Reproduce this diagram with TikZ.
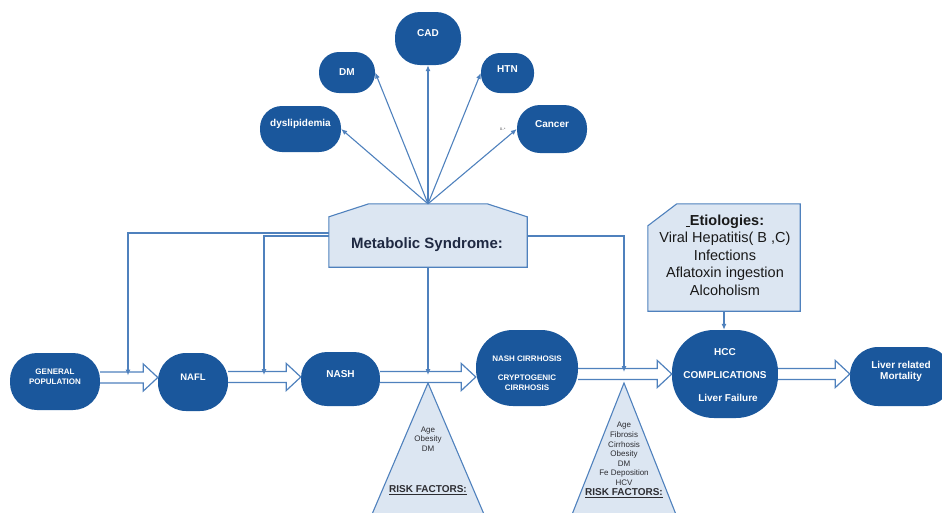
\documentclass[tikz,border=0pt]{standalone}
\usepackage{fontspec}
\setmainfont{Liberation Sans}
\usetikzlibrary{calc,arrows.meta}

\definecolor{nodeblue}{RGB}{26,87,156}
\definecolor{lineblue}{RGB}{79,129,189}
\definecolor{lightfill}{RGB}{220,230,242}
\definecolor{navy}{RGB}{31,41,66}
\definecolor{greytext}{RGB}{45,45,50}

\tikzset{
  blob/.style={fill=nodeblue, draw=none, inner sep=0pt},
  blobtext/.style={text=white, align=center, inner sep=0pt,
    font=\bfseries\fontsize{10}{12}\selectfont},
  link/.style={draw=lineblue, line width=1.1pt},
  tipped/.style={-{Latex[length=6pt,width=5pt]}},
  lightbox/.style={fill=lightfill, draw=lineblue, line width=1.1pt},
  fat/.style={fill=white, draw=lineblue, line width=1.2pt, line join=miter},
  risk/.style={font=\fontsize{8}{9.6}\selectfont, text=greytext, align=center},
  riskhead/.style={font=\bfseries\fontsize{10}{11}\selectfont, text=greytext},
}

% hollow block arrow from node #1 to node #2, shaft centred at height #3
\newcommand\hollowarrow[3]{%
  \draw[fat] (#1.east |- 0,#3-5.5)
    -- ($(#2.west |- 0,#3-5.5)+(-14.5,0)$)
    -- ($(#2.west |- 0,#3-13.5)+(-14.5,0)$)
    -- (#2.west |- 0,#3)
    -- ($(#2.west |- 0,#3+13.5)+(-14.5,0)$)
    -- ($(#2.west |- 0,#3+5.5)+(-14.5,0)$)
    -- (#1.east |- 0,#3+5.5);}

\begin{document}
\begin{tikzpicture}[x=1pt,y=-1pt]
\useasboundingbox (0,0) rectangle (942,512);
\clip (0,0) rectangle (942,512);

% risk factor triangles
\coordinate (t1) at (428,383);
\coordinate (t2) at (624,383);
\draw[lightbox] (t1) -- ++(-62.7,147) -- ++(125.4,0) -- cycle;
\draw[lightbox] (t2) -- ++(-58.1,147) -- ++(116.2,0) -- cycle;

% metabolic syndrome box (chamfered top corners)
\node[inner sep=0pt, minimum width=198pt, minimum height=63pt] (meta) at (428,235.5) {};
\draw[lightbox] (meta.south west) -- (meta.south east)
  -- ($(meta.north east)+(0,13)$) -- ($(meta.north east)+(-40,0)$)
  -- ($(meta.north west)+(40,0)$) -- ($(meta.north west)+(0,13)$) -- cycle;

% etiologies box (chamfered top-left corner)
\node[inner sep=0pt, minimum width=152pt, minimum height=107pt] (etio) at (724,257.5) {};
\draw[lightbox] (etio.south west) -- (etio.south east) -- (etio.north east)
  -- ($(etio.north west)+(29,0)$) -- ($(etio.north west)+(0,22)$) -- cycle;

% main pathway
\node[blob, minimum width=90pt, minimum height=57pt, rounded corners=27pt,
  label={[blobtext, font=\bfseries\fontsize{8}{10}\selectfont, yshift=4.5pt]center:{GENERAL\\POPULATION}}]
  (gp) at (55,381.5) {};
\node[blob, minimum width=70pt, minimum height=58pt, rounded corners=28pt,
  label={[blobtext, font=\bfseries\fontsize{9.5}{11}\selectfont, yshift=5pt]center:NAFL}]
  (nafl) at (193,382) {};
\node[blob, minimum width=79pt, minimum height=54pt, rounded corners=26pt,
  label={[blobtext, yshift=5pt]center:NASH}]
  (nash) at (340.5,379) {};
\node[blob, minimum width=102pt, minimum height=76pt, rounded corners=37pt,
  label={[blobtext, font=\bfseries\fontsize{8}{9.5}\selectfont, yshift=-5pt]center:{NASH CIRRHOSIS\\[9.5pt]CRYPTOGENIC\\CIRRHOSIS}}]
  (nc) at (527,368) {};
\node[blob, minimum width=106pt, minimum height=88pt, rounded corners=42pt,
  label={[blobtext, font=\bfseries\fontsize{10}{23}\selectfont, yshift=-1pt]center:{HCC\\COMPLICATIONS\\\hspace*{6pt}Liver Failure}}]
  (hcc) at (725,374) {};
\node[blob, minimum width=102pt, minimum height=59pt, rounded corners=28pt,
  label={[blobtext, font=\bfseries\fontsize{10}{11.5}\selectfont, yshift=5pt]center:{Liver related\\Mortality}}]
  (mort) at (901,376.5) {};

% conditions linked to the metabolic syndrome
\node[blob, minimum width=66pt, minimum height=53pt, rounded corners=25pt,
  label={[blobtext, yshift=5.5pt]center:CAD}] (cad) at (428,38.5) {};
\node[blob, minimum width=56pt, minimum height=41pt, rounded corners=20pt,
  label={[blobtext]center:DM}] (dm) at (347,72.5) {};
\node[blob, minimum width=53pt, minimum height=40pt, rounded corners=19pt,
  label={[blobtext, yshift=4pt]center:HTN}] (htn) at (507.5,73) {};
\node[blob, minimum width=81pt, minimum height=46pt, rounded corners=22pt,
  label={[blobtext, yshift=5pt]center:dyslipidemia}] (dysl) at (300.5,129) {};
\node[blob, minimum width=70pt, minimum height=48pt, rounded corners=23pt,
  label={[blobtext, yshift=5pt]center:Cancer}] (cancer) at (552,129) {};

% block arrows along the pathway
\hollowarrow{gp}{nafl}{377.5}
\hollowarrow{nafl}{nash}{377}
\hollowarrow{nash}{nc}{377}
\hollowarrow{nc}{hcc}{374}
\hollowarrow{hcc}{mort}{374}

% fan of arrows from the metabolic syndrome
\draw[link, tipped] (meta.north) -- (dysl.east);
\draw[link, tipped] (meta.north) -- (dm.east);
\draw[link, tipped] (meta.north) -- (cad.south);
\draw[link, tipped] (meta.north) -- (htn.west);
\draw[link, tipped] (meta.north) -- (cancer.west);
\node[font=\fontsize{3.5}{4}\selectfont, text=greytext, anchor=east] (mult) at (509,129.5) {0..*};

% feeds from the metabolic syndrome into the pathway
\coordinate (j1) at (128,375.5);
\coordinate (j2) at (264,375);
\coordinate (j3) at (428,375);
\coordinate (j4) at (624,372);
\draw[link, tipped] ($(meta.west)+(0,-2.5)$) -| (j1);
\draw[link, tipped] ($(meta.west)+(0,0.5)$) -| (j2);
\draw[link, tipped] (meta.south) -- (j3);
\draw[link, tipped] ($(meta.east)+(0,0.5)$) -| (j4);
\draw[link, tipped] (etio.south) -- (etio.south |- hcc.north);

% texts
\node[font=\bfseries\fontsize{15}{18}\selectfont, text=navy] (metatext) at (427,245) {Metabolic Syndrome:};
\node[font=\fontsize{14.5}{17.5}\selectfont, text=black!90, align=center] (etiotext) at (725,255)
  {\underline{\ }\textbf{Etiologies:}\\Viral Hepatitis( B ,C)\\Infections\\Aflatoxin ingestion\\Alcoholism};

\node[risk] (r1) at (428,439) {Age\\Obesity\\DM};
\node[riskhead] (r1h) at (428,490) {\underline{RISK FACTORS:}};
\node[risk] (r2) at (624,454) {Age\\Fibrosis\\Cirrhosis\\Obesity\\DM\\Fe Deposition\\HCV};
\node[riskhead] (r2h) at (624,493) {\underline{RISK FACTORS:}};
\end{tikzpicture}
\end{document}
